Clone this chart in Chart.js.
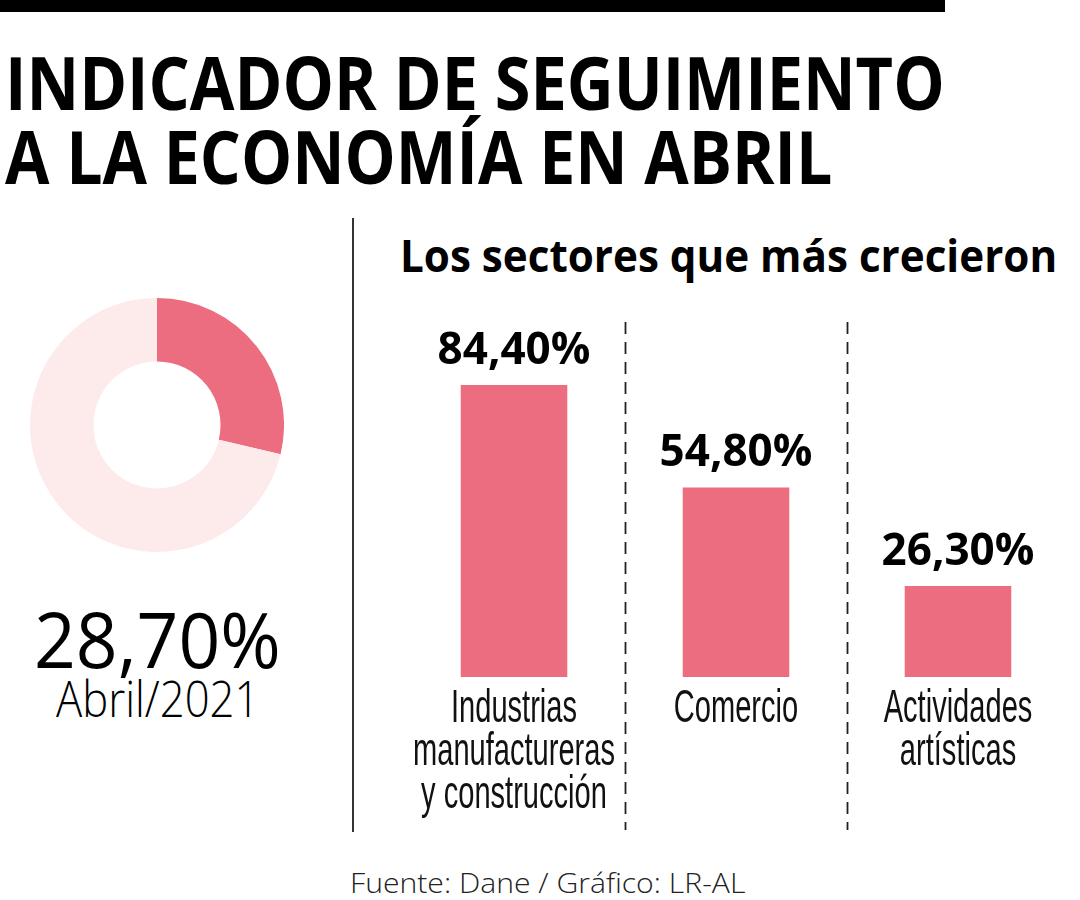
<!DOCTYPE html>
<html>
<head>
<meta charset="utf-8">
<script src="https://cdn.jsdelivr.net/npm/chart.js@4"></script>
<style>
  html, body { margin: 0; padding: 0; background: #fff; }
  body { width: 1080px; height: 900px; position: relative; overflow: hidden; font-family: "Open Sans", sans-serif; color: #000; }
  .txt { position: absolute; white-space: nowrap; line-height: 1; }
  #topbar { position: absolute; left: 0; top: 0; width: 945px; height: 12px; background: #000; }
  #divider { position: absolute; left: 352px; top: 218px; width: 2px; height: 614px; background: #333; }
  #donut { position: absolute; left: 30px; top: 298px; }
  #bars { position: absolute; left: 360px; top: 290px; }
</style>
</head>
<body>
<div id="topbar"></div>
<div id="divider"></div>
<canvas id="donut" width="254" height="254"></canvas>
<canvas id="bars" width="720" height="560"></canvas>

<script>
// data
const donutLabels = ['Abril/2021', 'Resto'];
const donutValues = [28.7, 71.3];
const donutColors = ['#EC6D7F', '#FDEBEC'];

const categories = [
  ['Industrias', 'manufactureras', 'y construcción'],
  ['Comercio'],
  ['Actividades', 'artísticas']
];
const barValues = [84.4, 54.8, 26.3];
const barColor = '#EC6D7F';

function pct(v) {
  return v.toFixed(2).replace('.', ',') + '%';
}

// put a line of html text with its baseline at y, squeezed to a width
function placeText(text, opts) {
  const el = document.createElement('div');
  el.className = 'txt';
  el.textContent = text;
  el.style.fontSize = opts.size + 'px';
  el.style.fontWeight = opts.weight || 400;
  if (opts.color) el.style.color = opts.color;
  document.body.appendChild(el);
  // Open Sans: with line-height 1 the baseline sits ~0.888em from the top
  el.style.top = (opts.baseline - 0.888 * opts.size) + 'px';
  const w = el.offsetWidth;
  const sx = opts.width ? opts.width / w : 1;
  el.style.transformOrigin = '0 0';
  el.style.transform = 'scaleX(' + sx + ')';
  let left = opts.x;
  if (opts.align === 'center') left = opts.x - (w * sx) / 2;
  el.style.left = left + 'px';
}

placeText('INDICADOR DE SEGUIMIENTO', { size: 73, weight: 700, x: 5, baseline: 110, width: 940 });
placeText('A LA ECONOMÍA EN ABRIL', { size: 73, weight: 700, x: 5, baseline: 184, width: 827 });
placeText('Los sectores que más crecieron', { size: 45, weight: 700, x: 400, baseline: 272, width: 657 });
placeText(pct(donutValues[0]), { size: 77, weight: 400, x: 157, baseline: 668, width: 247, align: 'center' });
placeText(donutLabels[0], { size: 49, weight: 300, x: 157, baseline: 718, width: 203, align: 'center' });
placeText('Fuente: Dane / Gráfico: LR-AL', { size: 28, weight: 300, x: 350, baseline: 893, width: 395, color: '#222' });

// donut
new Chart(document.getElementById('donut').getContext('2d'), {
  type: 'doughnut',
  data: {
    labels: donutLabels,
    datasets: [{
      data: donutValues,
      backgroundColor: donutColors,
      borderWidth: 0
    }]
  },
  options: {
    responsive: false,
    animation: false,
    cutout: '50%',
    layout: { padding: 0 },
    plugins: {
      legend: { display: false },
      tooltip: { enabled: false }
    }
  }
});

// labels, dashed separators for the bar chart
const barDecor = {
  id: 'barDecor',
  afterDatasetsDraw(chart) {
    const ctx = chart.ctx;
    const xs = chart.scales.x;
    const area = chart.chartArea;
    const meta = chart.getDatasetMeta(0);
    ctx.save();

    // dashed separators between categories
    ctx.strokeStyle = '#222';
    ctx.lineWidth = 1.8;
    ctx.setLineDash([12, 8]);
    for (let i = 0; i < categories.length - 1; i++) {
      const x = Math.round((xs.getPixelForValue(i) + xs.getPixelForValue(i + 1)) / 2) + 0.5;
      ctx.beginPath();
      ctx.moveTo(x, 32);
      ctx.lineTo(x, 540);
      ctx.stroke();
    }
    ctx.setLineDash([]);

    // values on top of the bars
    ctx.fillStyle = '#000';
    ctx.textAlign = 'center';
    ctx.textBaseline = 'alphabetic';
    ctx.font = '700 44px "Open Sans"';
    meta.data.forEach((bar, i) => {
      ctx.fillText(pct(barValues[i]), bar.x, bar.y - 21);
    });

    // category names under the bars, squeezed like a condensed face
    ctx.fillStyle = '#111';
    ctx.font = '46px "Liberation Sans", Arial, sans-serif';
    const squeeze = 202 / ctx.measureText('manufactureras').width;
    categories.forEach((lines, i) => {
      const x = xs.getPixelForValue(i);
      lines.forEach((line, j) => {
        ctx.save();
        ctx.translate(x, area.bottom + 45 + j * 43);
        ctx.scale(squeeze, 1);
        ctx.fillText(line, 0, 0);
        ctx.restore();
      });
    });
    ctx.restore();
  }
};

new Chart(document.getElementById('bars').getContext('2d'), {
  type: 'bar',
  data: {
    labels: categories,
    datasets: [{
      label: 'Los sectores que más crecieron',
      data: barValues,
      backgroundColor: barColor,
      borderWidth: 0,
      categoryPercentage: 1,
      barPercentage: 0.48
    }]
  },
  plugins: [barDecor],
  options: {
    responsive: false,
    animation: false,
    layout: {
      padding: { left: 43, right: 11, top: 41, bottom: 173 }
    },
    plugins: {
      legend: { display: false },
      tooltip: { enabled: false }
    },
    scales: {
      x: { display: false },
      y: { display: false, min: 0, max: 100 }
    }
  }
});
</script>
</body>
</html>
